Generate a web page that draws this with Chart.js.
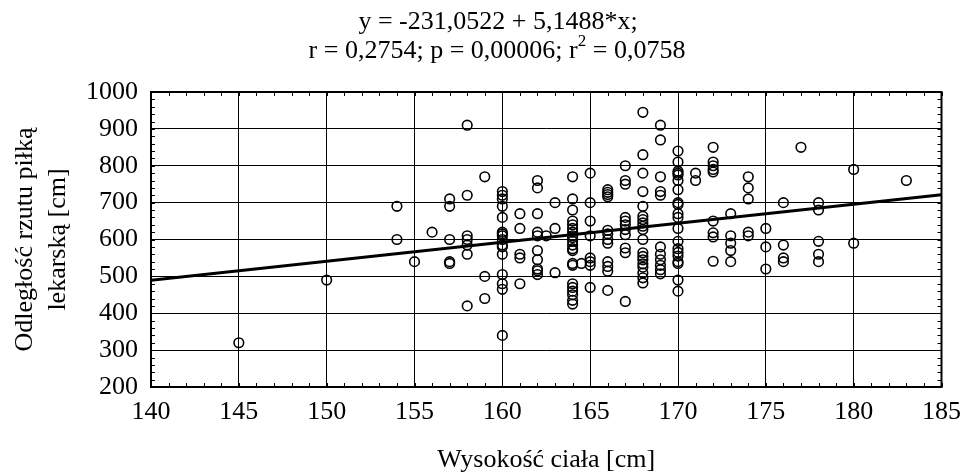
<!DOCTYPE html>
<html>
<head>
<meta charset="utf-8">
<script src="https://cdn.jsdelivr.net/npm/chart.js@4"></script>
<style>
  html, body { margin: 0; padding: 0; background: #fff; }
  #wrap { width: 971px; height: 475px; }
</style>
</head>
<body>
<div id="wrap"><canvas id="scatterChart" width="971" height="475"></canvas></div>
<script>
// Wysokość ciała [cm] vs odległość rzutu piłką lekarską [cm]
const heights = [
    145,
    150,
    154, 154,
    155,
    156,
    157, 157, 157, 157, 157,
    158, 158, 158, 158, 158, 158, 158,
    159, 159, 159,
    160, 160, 160, 160, 160, 160, 160, 160, 160, 160, 160, 160, 160, 160, 160, 160,
    161, 161, 161, 161, 161,
    162, 162, 162, 162, 162, 162, 162, 162, 162, 162,
    162.5,
    163, 163, 163,
    164, 164, 164, 164, 164, 164, 164, 164, 164, 164, 164, 164, 164, 164, 164, 164, 164, 164, 164, 164, 164,
    164.5,
    165, 165, 165, 165, 165, 165, 165, 165,
    166, 166, 166, 166, 166, 166, 166, 166, 166, 166, 166, 166,
    167, 167, 167, 167, 167, 167, 167, 167, 167, 167, 167,
    168, 168, 168, 168, 168, 168, 168, 168, 168, 168, 168, 168, 168, 168, 168, 168, 168, 168, 168,
    169, 169, 169, 169, 169, 169, 169, 169, 169, 169, 169,
    170, 170, 170, 170, 170, 170, 170, 170, 170, 170, 170, 170, 170, 170, 170, 170, 170, 170, 170, 170,
    171, 171,
    172, 172, 172, 172, 172, 172, 172, 172, 172,
    173, 173, 173, 173, 173,
    174, 174, 174, 174, 174,
    175, 175, 175,
    176, 176, 176, 176,
    177,
    178, 178, 178, 178, 178,
    180, 180,
    183
];
const throwDist = [
    320,
    490,
    690, 600,
    540,
    620,
    710, 690, 600, 540, 535,
    910, 720, 610, 600, 585, 560, 420,
    770, 500, 440,
    730, 720, 710, 690, 660, 620, 615, 610, 600, 585, 580, 560, 505, 480, 465, 340,
    670, 630, 560, 550, 480,
    760, 740, 670, 620, 610, 570, 545, 520, 515, 505,
    610,
    700, 630, 510,
    770, 710, 680, 650, 640, 630, 620, 610, 605, 595, 585, 575, 570, 535, 530, 480, 470, 460, 450, 435, 425,
    535,
    780, 700, 650, 610, 550, 540, 530, 470,
    735, 728, 722, 716, 625, 615, 600, 590, 540, 527, 514, 462,
    800, 760, 750, 660, 650, 640, 627, 613, 577, 564, 432,
    945, 830, 780, 730, 690, 663, 654, 645, 636, 627, 600, 564, 554, 545, 534, 525, 509, 496, 482,
    910, 870, 770, 730, 720, 580, 560, 545, 530, 518, 507,
    840, 810, 785, 780, 775, 760, 735, 700, 695, 670, 660, 630, 595, 575, 565, 555, 540, 535, 490, 460,
    780, 760,
    850, 810, 800, 790, 783, 650, 618, 607, 541,
    670, 610, 590, 570, 540,
    770, 740, 710, 620, 610,
    630, 580, 520,
    700, 585, 550, 540,
    850,
    700, 680, 595, 560, 540,
    790, 590,
    760
];

// regression: y = a + b*x
const fitA = -231.0522;
const fitB = 5.1488;
const xRange = [140, 185];
const yRange = [200, 1000];

const titleLines = ['y = -231,0522 + 5,1488*x;', 'r = 0,2754; p = 0,00006; r', '2', ' = 0,0758'];
const xTitle = 'Wysokość ciała [cm]';
const yTitle = ['Odległość rzutu piłką', 'lekarską [cm]'];

const serif = '"Liberation Serif", "DejaVu Serif", serif';
const fontPx = 26;

const points = heights.map((h, i) => ({ x: h, y: throwDist[i] }));
const fitLine = xRange.map(x => ({ x: x, y: fitA + fitB * x }));

// texts, frame and minor ticks
const decorPlugin = {
    id: 'decor',
    afterDraw(chart) {
        const { ctx, chartArea: a, scales } = chart;
        const xs = scales.x, ys = scales.y;
        ctx.save();
        ctx.strokeStyle = '#000';
        ctx.lineWidth = 1;
        // minor ticks
        ctx.beginPath();
        for (let v = xRange[0]; v <= xRange[1]; v++) {
            const px = Math.round(xs.getPixelForValue(v)) + 0.5;
            ctx.moveTo(px, a.top); ctx.lineTo(px, a.top + 4);
            ctx.moveTo(px, a.bottom); ctx.lineTo(px, a.bottom - 4);
        }
        for (let v = yRange[0]; v <= yRange[1]; v += 20) {
            const py = Math.round(ys.getPixelForValue(v)) + 0.5;
            ctx.moveTo(a.left, py); ctx.lineTo(a.left + 4, py);
            ctx.moveTo(a.right, py); ctx.lineTo(a.right - 4, py);
        }
        ctx.stroke();
        // frame
        ctx.lineWidth = 2;
        ctx.strokeRect(a.left, a.top, a.right - a.left, a.bottom - a.top);

        const big = fontPx + 'px ' + serif;
        const small = Math.round(fontPx * 0.65) + 'px ' + serif;
        ctx.fillStyle = '#000';
        ctx.font = big;
        ctx.textBaseline = 'middle';
        // title line 1
        ctx.textAlign = 'center';
        ctx.fillText(titleLines[0], 498, 22);
        // title line 2 with superscript
        const w1 = ctx.measureText(titleLines[1]).width;
        ctx.font = small;
        const w2 = ctx.measureText(titleLines[2]).width;
        ctx.font = big;
        const w3 = ctx.measureText(titleLines[3]).width;
        const x0 = 497 - (w1 + w2 + w3) / 2;
        ctx.textAlign = 'left';
        ctx.fillText(titleLines[1], x0, 51);
        ctx.font = small;
        ctx.fillText(titleLines[2], x0 + w1, 42);
        ctx.font = big;
        ctx.fillText(titleLines[3], x0 + w1 + w2, 51);
        // x title
        ctx.textAlign = 'center';
        ctx.fillText(xTitle, (a.left + a.right) / 2, 460);
        // y title
        ctx.translate(0, (a.top + a.bottom) / 2);
        ctx.rotate(-Math.PI / 2);
        ctx.fillText(yTitle[0], 0, 25);
        ctx.fillText(yTitle[1], 0, 58);
        ctx.restore();
    }
};

new Chart(document.getElementById('scatterChart'), {
    type: 'scatter',
    data: {
        datasets: [{
            data: points,
            pointStyle: 'circle',
            pointRadius: 4.8,
            pointBorderWidth: 1.6,
            pointBorderColor: '#000',
            pointBackgroundColor: 'rgba(0,0,0,0)',
            order: 2
        }, {
            type: 'line',
            data: fitLine,
            borderColor: '#000',
            borderWidth: 3,
            pointRadius: 0,
            fill: false,
            order: 1
        }]
    },
    options: {
        responsive: false,
        animation: false,
        events: [],
        layout: { padding: { top: 92, right: 23, bottom: 0, left: 0 } },
        plugins: {
            legend: { display: false },
            tooltip: { enabled: false }
        },
        scales: {
            x: {
                type: 'linear',
                min: xRange[0],
                max: xRange[1],
                afterFit: s => { s.height = 88; },
                ticks: {
                    stepSize: 5,
                    padding: 10,
                    color: '#000',
                    callback: v => String(v),
                    font: { family: serif, size: fontPx }
                },
                grid: { color: '#000', lineWidth: 1, drawTicks: false },
                border: { display: false }
            },
            y: {
                type: 'linear',
                min: yRange[0],
                max: yRange[1],
                afterFit: s => { s.width = 151; },
                ticks: {
                    stepSize: 100,
                    padding: 13,
                    color: '#000',
                    callback: v => String(v),
                    font: { family: serif, size: fontPx }
                },
                grid: { color: '#000', lineWidth: 1, drawTicks: false },
                border: { display: false }
            }
        }
    },
    plugins: [decorPlugin]
});
</script>
</body>
</html>
